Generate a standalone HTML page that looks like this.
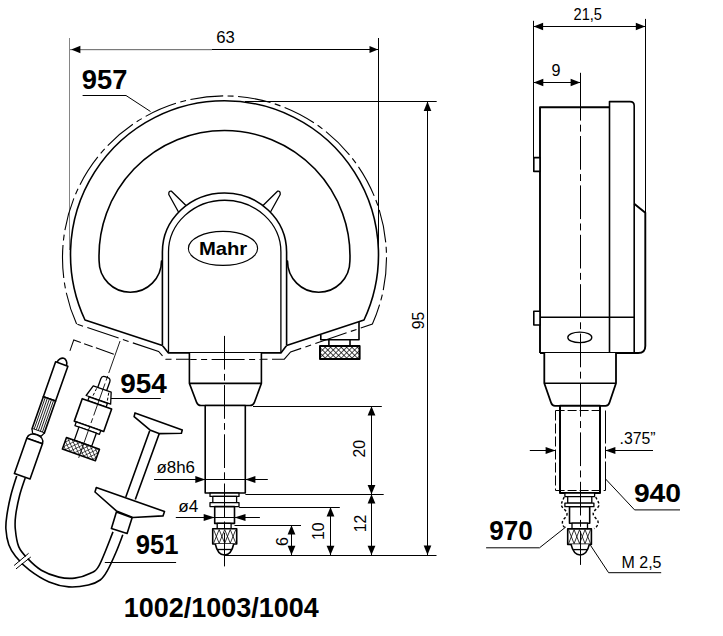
<!DOCTYPE html>
<html><head><meta charset="utf-8"><style>
html,body{margin:0;padding:0;background:#fff;}
svg{display:block;}
.k{stroke:#000;stroke-width:1.6;fill:none;stroke-linejoin:round;}
.k2{stroke:#000;stroke-width:1.3;fill:none;stroke-linejoin:round;}
.t{stroke:#000;stroke-width:1;fill:none;}
.ch{stroke:#000;stroke-width:1.1;fill:none;stroke-dasharray:33 4.5 6 4.5;}
.cl{stroke:#000;stroke-width:1;fill:none;stroke-dasharray:33.7 4.3 6.7 4.5;}
.cl2{stroke:#000;stroke-width:0.9;fill:none;stroke-dasharray:34 3 5 3;}
.dsh{stroke:#000;stroke-width:1;fill:none;stroke-dasharray:7 3.5;}
text{font-family:"Liberation Sans",sans-serif;fill:#000;}
.b{font-weight:bold;}
</style></head><body>
<svg width="723" height="636" viewBox="0 0 723 636">
<defs>
<pattern id="xh" width="3.8" height="3.8" patternUnits="userSpaceOnUse" patternTransform="rotate(45)">
<rect width="3.8" height="3.8" fill="#fff"/><path d="M0,0 L0,3.8 M0,0 L3.8,0" stroke="#000" stroke-width="1.35"/></pattern>
<pattern id="xh2" width="3.4" height="3.4" patternUnits="userSpaceOnUse" patternTransform="rotate(45)">
<rect width="3.4" height="3.4" fill="#fff"/><path d="M0,0 L0,3.4 M0,0 L3.4,0" stroke="#000" stroke-width="1.15"/></pattern>
<pattern id="vh" width="2.35" height="10" patternUnits="userSpaceOnUse" x="-6.5">
<rect width="2.35" height="10" fill="#fff"/><path d="M1.6,0 L1.6,10" stroke="#000" stroke-width="0.75"/></pattern>
</defs>
<rect width="723" height="636" style="fill:#fff"/>
<line x1="69.5" y1="38" x2="69.5" y2="250" stroke="#858585" stroke-width="1"/>
<line x1="378.5" y1="38" x2="378.5" y2="250" class="t"/>
<line x1="70" y1="49.5" x2="212" y2="49.5" stroke="#7a7a7a" stroke-width="1"/>
<line x1="70" y1="50.5" x2="212" y2="50.5" stroke="#e4e4e4" stroke-width="1"/>
<line x1="212" y1="49.5" x2="378.5" y2="49.5" class="t"/>
<polygon points="71.20,49.50 80.40,45.80 80.40,53.20" fill="#000"/>
<polygon points="378.00,49.50 369.50,53.10 369.50,45.90" fill="#000"/>
<polyline points="82.6,95.5 126,95.5 150.5,111.5" class="t" fill="none"/>
<path d="M76.6,324 A162,162 0 1 1 372.4,324 L290.6,352 L284.3,359.2 L165.6,359.2 L158.6,351.5 Z" class="ch"/>
<path d="M85,320 A154,154 0 1 1 364,320 L286.6,345.4 L280.9,352.9 L168.4,352.9 L162.4,345.4 Z" class="k" style="fill:#fff"/>
<path d="M161.5,261 A31.2,31.2 0 0 1 99.1,261 A125.5,125.5 0 1 1 349.9,261 A31.2,31.2 0 0 1 287.5,261 Z" class="k"/>
<path d="M178.5,212 L168.8,194.5 Q168.5,190.5 171.5,191.2 L186,205.5" class="k2" style="fill:#fff"/>
<path d="M270.5,212 L280.2,194.5 Q280.5,190.5 277.5,191.2 L263,205.5" class="k2" style="fill:#fff"/>
<path d="M162.4,345.4 L162.4,252 A62.1,59.1 0 0 1 286.6,252 L286.6,345.4" class="k" style="fill:#fff"/>
<path d="M168.5,352.9 L168.5,252 A56.2,51.8 0 0 1 280.9,252 L280.9,352.9" class="k2"/>
<ellipse cx="223" cy="248.4" rx="34.6" ry="17" class="k2" style="stroke-width:1.15"/>
<text x="198.9" y="254.8" class="b" font-size="18.5" textLength="48.3" lengthAdjust="spacingAndGlyphs">Mahr</text>
<polyline points="320.8,335 320.8,339.7 359,339.7 359,322" class="k" fill="none"/>
<line x1="328.9" y1="339.7" x2="328.9" y2="346" class="k"/>
<line x1="350" y1="339.7" x2="350" y2="346" class="k"/>
<rect x="320" y="345.9" width="39.6" height="13" class="k" style="fill:url(#xh);stroke-width:2"/>
<path d="M189.4,352.9 L189.4,383.4 L196.6,402.4 Q197.8,405.5 201,405.5 L250,405.5 Q253.2,405.5 254.4,402.4 L261.4,383.4 L261.4,352.9" class="k" style="fill:#fff"/>
<line x1="189.4" y1="383.4" x2="261.4" y2="383.4" class="k"/>
<line x1="190.2" y1="359.5" x2="260.6" y2="359.5" class="ch" style="stroke-dashoffset:26.6"/>
<rect x="205.2" y="405.5" width="40.1" height="87.5" class="k" style="fill:#fff"/>
<rect x="210" y="493" width="29" height="3.4" class="k2" style="fill:#fff"/>
<rect x="212.8" y="496.4" width="23.8" height="6.2" class="k2" style="fill:#fff"/>
<rect x="210" y="502.6" width="29" height="4" class="k2" style="fill:#fff"/>
<rect x="214.7" y="506.6" width="19.8" height="16.8" class="k" style="fill:#fff"/>
<rect x="217.2" y="523.4" width="13.9" height="5.4" class="k2" style="fill:#fff"/>
<rect x="212.7" y="528.8" width="24" height="15.2" class="k" style="fill:#fff"/>
<path d="M213.60,529.6 L219.15,543.2 M219.15,529.6 L213.60,543.2 M219.15,529.6 L224.70,543.2 M224.70,529.6 L219.15,543.2 M224.70,529.6 L230.25,543.2 M230.25,529.6 L224.70,543.2 M230.25,529.6 L235.80,543.2 M235.80,529.6 L230.25,543.2" stroke="#000" stroke-width="0.8"/>
<path d="M215.3,544 C216.8,551 220.3,555 224.5,555 C228.7,555 232.2,551 233.7,544" class="k" style="fill:#fff"/>
<line x1="217.4" y1="549.5" x2="231.6" y2="549.5" class="k2"/>
<line x1="224.5" y1="335.9" x2="224.5" y2="568" class="cl"/>
<line x1="253" y1="406.5" x2="381.8" y2="406.5" class="t"/>
<line x1="245.4" y1="494.5" x2="383.7" y2="494.5" class="t"/>
<line x1="239.1" y1="507.5" x2="339.8" y2="507.5" class="t"/>
<line x1="234.5" y1="525.5" x2="301" y2="525.5" class="t"/>
<line x1="225" y1="555.5" x2="436.5" y2="555.5" class="t"/>
<line x1="245" y1="101.5" x2="436.7" y2="101.5" class="t"/>
<line x1="371.5" y1="406.2" x2="371.5" y2="494.2" class="t"/>
<polygon points="371.50,406.20 375.40,415.50 367.60,415.50" fill="#000"/>
<polygon points="371.50,494.20 367.60,484.90 375.40,484.90" fill="#000"/>
<line x1="371.5" y1="494.2" x2="371.5" y2="555.1" class="t"/>
<polygon points="371.50,494.20 375.40,503.50 367.60,503.50" fill="#000"/>
<polygon points="371.50,555.10 367.60,545.80 375.40,545.80" fill="#000"/>
<line x1="330.5" y1="507.1" x2="330.5" y2="555.1" class="t"/>
<polygon points="330.50,507.10 334.40,516.40 326.60,516.40" fill="#000"/>
<polygon points="330.50,555.10 326.60,545.80 334.40,545.80" fill="#000"/>
<line x1="291.5" y1="525.3" x2="291.5" y2="555.1" class="t"/>
<polygon points="291.50,525.30 295.40,534.60 287.60,534.60" fill="#000"/>
<polygon points="291.50,555.10 287.60,545.80 295.40,545.80" fill="#000"/>
<line x1="427.5" y1="101.4" x2="427.5" y2="555.1" class="t"/>
<polygon points="427.50,101.40 431.30,110.90 423.70,110.90" fill="#000"/>
<polygon points="427.50,555.10 423.70,545.60 431.30,545.60" fill="#000"/>
<line x1="154" y1="479.5" x2="267.8" y2="479.5" class="t"/>
<polygon points="205.30,479.50 195.30,483.10 195.30,475.90" fill="#000"/>
<polygon points="245.40,479.50 255.40,475.90 255.40,483.10" fill="#000"/>
<line x1="175.8" y1="517.5" x2="259.9" y2="517.5" class="t"/>
<polygon points="214.70,517.50 203.70,521.10 203.70,513.90" fill="#000"/>
<polygon points="234.50,517.50 245.50,513.90 245.50,521.10" fill="#000"/>
<text x="216.3" y="43.4" class="r" font-size="17.3" textLength="18.6" lengthAdjust="spacingAndGlyphs">63</text>
<text x="81.8" y="89.2" class="b" font-size="27.9" textLength="45.6" lengthAdjust="spacingAndGlyphs">957</text>
<text x="120.3" y="393" class="b" font-size="28" textLength="46.6" lengthAdjust="spacingAndGlyphs">954</text>
<text x="135.8" y="554.1" class="b" font-size="27.9" textLength="42.8" lengthAdjust="spacingAndGlyphs">951</text>
<text x="156.5" y="473.4" class="r" font-size="16" textLength="38.5" lengthAdjust="spacingAndGlyphs">ø8h6</text>
<text x="178.3" y="512.4" class="r" font-size="16" textLength="20" lengthAdjust="spacingAndGlyphs">ø4</text>
<text x="123.8" y="616.6" class="b" font-size="27" textLength="195" lengthAdjust="spacingAndGlyphs">1002/1003/1004</text>
<text x="365.2" y="457.6" class="r" font-size="17" textLength="17.5" lengthAdjust="spacingAndGlyphs" transform="rotate(-90 365.2 457.6)">20</text>
<text x="365.6" y="532.3" class="r" font-size="17" textLength="17.5" lengthAdjust="spacingAndGlyphs" transform="rotate(-90 365.6 532.3)">12</text>
<text x="324.0" y="540" class="r" font-size="17" textLength="17.5" lengthAdjust="spacingAndGlyphs" transform="rotate(-90 324.0 540)">10</text>
<text x="287.8" y="546" class="r" font-size="17" textLength="9" lengthAdjust="spacingAndGlyphs" transform="rotate(-90 287.8 546)">6</text>
<text x="424.5" y="329.2" class="r" font-size="17" textLength="17.5" lengthAdjust="spacingAndGlyphs" transform="rotate(-90 424.5 329.2)">95</text>
<line x1="107.7" y1="398.5" x2="160.8" y2="398.5" class="t"/>
<line x1="104.8" y1="562.5" x2="176.1" y2="562.5" class="t"/>
<g transform="translate(96.95,403.9) rotate(19.5)">
<path d="M-43.2,-41 L-43.2,-52.5 L0.6,-52.5" class="dsh" style="stroke-dasharray:19 3.5 9 3.5"/>
<path d="M-4.75,-15.8 L-4.75,-25 Q-4.75,-28.3 -1.5,-28.3 L1.5,-28.3 Q4.75,-28.3 4.75,-25 L4.75,-15.8" class="k2" style="fill:#fff"/>
<path d="M-9.5,-15.8 L9.5,-15.8 L13,-4.3 L-13,-4.3 Z" class="k2" style="fill:#fff"/>
<rect x="-9.7" y="-3.9" width="19.4" height="3.9" class="k2" style="fill:#fff"/>
<rect x="-15.6" y="0" width="31.2" height="23.8" class="k" style="fill:#fff"/>
<rect x="-13.5" y="23.8" width="26" height="4" class="k2" style="fill:#fff"/>
<rect x="-9.2" y="27.8" width="18.4" height="14" class="k2" style="fill:#fff"/>
<rect x="-17.5" y="41.8" width="35" height="12.3" class="k" style="fill:url(#xh2)"/>
<line x1="0.8" y1="-67" x2="0.8" y2="57" class="cl2" style="stroke-width:0.8"/>
<path d="M-5.5,-14.5 L-6.6,-5 M7.4,-14.5 L9,-5" stroke="#000" stroke-width="0.9" stroke-dasharray="3 2"/>
</g>
<g transform="translate(61.75,364) rotate(19.4)">
<path d="M-5,0 C-5,-4 -2,-6 0,-6 C2,-6 5,-4 5,0" class="k" style="fill:#fff"/>
<rect x="-6.5" y="0" width="13" height="37" class="k" style="fill:#fff"/>
<rect x="-6.5" y="37" width="13" height="34" class="k" style="fill:#fff"/>
<path d="M-4.4,37.5 L-4.4,70.5 M-2.2,37.5 L-2.2,70.5 M0,37.5 L0,70.5 M2.2,37.5 L2.2,70.5 M4.4,37.5 L4.4,70.5" stroke="#000" stroke-width="0.8"/>
<path d="M-6.5,71 L-4.5,75 L4.5,75 L6.5,71" class="k2" style="fill:#fff"/>
<path d="M-8.3,81.7 C-8.3,77 -4,75 0,75 C4,75 8.3,77 8.3,81.7 Z" class="k" style="fill:#fff"/>
<rect x="-8.3" y="81.7" width="16.6" height="37.3" class="k" style="fill:#fff"/>
</g>
<path d="M16.7,475.9 C15.72,479.17 12.43,488.95 10.8,495.5 C9.17,502.05 7.72,509.62 6.9,515.2 C6.08,520.78 5.58,524.08 5.9,529 C6.22,533.92 7.17,540.12 8.8,544.7 C10.43,549.28 12.25,552.25 15.7,556.5 C19.15,560.75 23.93,565.95 29.5,570.2 C35.07,574.45 42.55,579.22 49.1,582 C55.65,584.78 62.25,586.40 68.8,586.9 C75.35,587.40 83.17,586.15 88.4,585 C93.63,583.85 97.08,582.30 100.2,580 C103.32,577.70 104.48,575.78 107.1,571.2 C109.72,566.62 113.28,558.57 115.9,552.5 C118.52,546.43 121.65,537.75 122.8,534.8" class="k"/>
<path d="M25.2,477.9 C24.27,480.83 21.18,489.28 19.6,495.5 C18.02,501.72 16.42,509.62 15.7,515.2 C14.98,520.78 14.80,523.77 15.3,529 C15.80,534.23 16.67,541.70 18.7,546.6 C20.73,551.50 23.73,554.47 27.5,558.4 C31.27,562.33 36.07,567.08 41.3,570.2 C46.53,573.32 53.33,575.78 58.9,577.1 C64.47,578.42 69.45,578.75 74.7,578.1 C79.95,577.45 86.32,575.33 90.4,573.2 C94.48,571.07 95.43,572.18 99.2,565.3 C102.97,558.42 110.70,537.47 113,531.9" class="k"/>
<path d="M15.05,567.2 L29.7,555.15" stroke="#fff" stroke-width="3"/>
<path d="M14.1,565.5 L28.6,553.3 M16,568.9 L30.8,557" class="t"/>
<polygon points="135,412.9 134.1,416.6 149.9,429.9 159,433.6 181.4,433.2 182.3,429.9" class="k" style="fill:#fff"/>
<path d="M149.7,430.7 L125.8,497 M159.2,433.8 L135.3,499.6" class="k"/>
<polygon points="96.3,487.6 95,492 116.4,510.9 132.8,517.5 163,515.9 164.5,511.5" class="k" style="fill:#fff"/>
<polygon points="116.4,512.1 111.4,528.5 127.1,533.5 132.1,517.8" class="k" style="fill:#fff"/>
<line x1="533.5" y1="20.8" x2="533.5" y2="160" class="t"/>
<line x1="645.5" y1="18.9" x2="645.5" y2="212.8" class="t"/>
<line x1="533.6" y1="26.5" x2="645.3" y2="26.5" class="t"/>
<polygon points="533.60,26.50 543.10,22.70 543.10,30.30" fill="#000"/>
<polygon points="645.30,26.50 635.80,30.30 635.80,22.70" fill="#000"/>
<line x1="533.6" y1="82.5" x2="580.3" y2="82.5" class="t"/>
<polygon points="533.60,82.50 543.30,78.70 543.30,86.30" fill="#000"/>
<polygon points="580.30,82.50 570.60,86.30 570.60,78.70" fill="#000"/>
<line x1="580.5" y1="72.8" x2="580.5" y2="120.6" class="t"/>
<path d="M540,353 L540,107.3 L609.5,107.3" class="k" style="stroke-width:1.9"/>
<path d="M609.5,353 L609.5,101.6 L630,101.6 Q634.2,101.6 634.2,105.8 L634.2,353" class="k" fill="none"/>
<path d="M634.2,203.8 L645.3,212.8 L645.3,346 Q645.3,353 638.3,353 L540,353" class="k" style="stroke-width:1.9"/>
<line x1="540" y1="317.2" x2="634.3" y2="317.2" class="k"/>
<rect x="533.8" y="157.6" width="6.2" height="13.8" class="k" style="fill:#fff"/>
<rect x="533.8" y="311.2" width="6.2" height="13.8" class="k" style="fill:#fff"/>
<ellipse cx="579.8" cy="337.4" rx="12" ry="5.3" class="k2"/>
<path d="M544.3,353 L544.3,383.3 L551,402.5 Q552,405.8 555,405.8 L605.5,405.8 Q608.5,405.8 609.5,402.5 L616,383.3 L616,353" class="k" style="fill:#fff;stroke-width:1.8"/>
<line x1="544.3" y1="383.3" x2="616" y2="383.3" class="k"/>
<rect x="560" y="405.8" width="40" height="87.2" class="k" style="fill:#fff;stroke-width:2"/>
<path d="M555.6,410.5 L599.7,410.5 M555.6,490.5 L605.5,490.5" class="dsh" style="stroke-dasharray:9 3"/>
<path d="M555.5,410.5 L555.5,490.5" class="dsh" style="stroke-dasharray:10 3"/>
<path d="M605.5,410.5 L605.5,490.5" class="dsh" style="stroke-dasharray:33 3 12 3"/>
<rect x="564.9" y="493" width="29.7" height="3.6" class="k2" style="fill:#fff"/>
<rect x="567.7" y="496.6" width="24.1" height="6.5" class="k2" style="fill:#fff"/>
<rect x="564.9" y="503.1" width="29" height="3.6" class="k2" style="fill:#fff"/>
<rect x="569.5" y="506.7" width="20.2" height="16.5" class="k" style="fill:#fff"/>
<rect x="572" y="523.2" width="15.5" height="5.7" class="k2" style="fill:#fff"/>
<rect x="567.7" y="528.9" width="23.7" height="15.5" class="k" style="fill:#fff"/>
<path d="M568.60,529.7 L574.08,543.6 M574.08,529.7 L568.60,543.6 M574.08,529.7 L579.55,543.6 M579.55,529.7 L574.08,543.6 M579.55,529.7 L585.02,543.6 M585.02,529.7 L579.55,543.6 M585.02,529.7 L590.50,543.6 M590.50,529.7 L585.02,543.6" stroke="#000" stroke-width="0.8"/>
<path d="M571,544.2 C572.5,551 576,555 580.2,555 C584.4,555 587.9,551 589.4,544.2" class="k" style="fill:#fff"/>
<line x1="573.2" y1="549.6" x2="587.2" y2="549.6" class="k2"/>
<path d="M564.2,497 C563,500 561.5,502 561.4,505 C561.3,508 566.5,510 567,513.5 C567.5,517 562.5,519 562.4,522 C562.3,525 563.5,527 566,528 M595.7,497 C597,500 599,502 599,505 C599,508 593.5,510 593.2,513.5 C593,517 598,519 598.1,522 C598.2,525 596.5,527.5 594,528.5" stroke="#000" stroke-width="1.4" fill="none" stroke-dasharray="2.6 2"/>
<line x1="580.5" y1="124.7" x2="580.5" y2="566" class="cl" style="stroke-dasharray:6.9 4.4 33.7 4.4"/>
<line x1="529.8" y1="450.5" x2="555.6" y2="450.5" class="t"/>
<polygon points="555.60,450.50 545.60,454.10 545.60,446.90" fill="#000"/>
<line x1="605.4" y1="450.5" x2="653" y2="450.5" class="t"/>
<polygon points="605.40,450.50 615.40,446.90 615.40,454.10" fill="#000"/>
<polyline points="605.6,479 634.6,509.9 680,509.9" class="t" fill="none" stroke="#444"/>
<polyline points="565.8,527 539.5,547.8 486.1,547.8" class="t" fill="none" stroke="#444"/>
<polyline points="590.4,545.2 608.6,572.7 661.2,572.7" class="t" fill="none" stroke="#444"/>
<text x="573.5" y="19.8" class="r" font-size="17" textLength="28.5" lengthAdjust="spacingAndGlyphs">21,5</text>
<text x="551.5" y="75.8" class="r" font-size="17" textLength="9" lengthAdjust="spacingAndGlyphs">9</text>
<text x="619.6" y="444.2" class="r" font-size="16" textLength="36" lengthAdjust="spacingAndGlyphs">.375”</text>
<text x="633.9" y="501.8" class="b" font-size="26.3" textLength="47.2" lengthAdjust="spacingAndGlyphs">940</text>
<text x="489.2" y="540" class="b" font-size="26.8" textLength="43.6" lengthAdjust="spacingAndGlyphs">970</text>
<text x="621.5" y="568" class="r" font-size="16.5" textLength="40" lengthAdjust="spacingAndGlyphs">M 2,5</text>
</svg>
</body></html>
